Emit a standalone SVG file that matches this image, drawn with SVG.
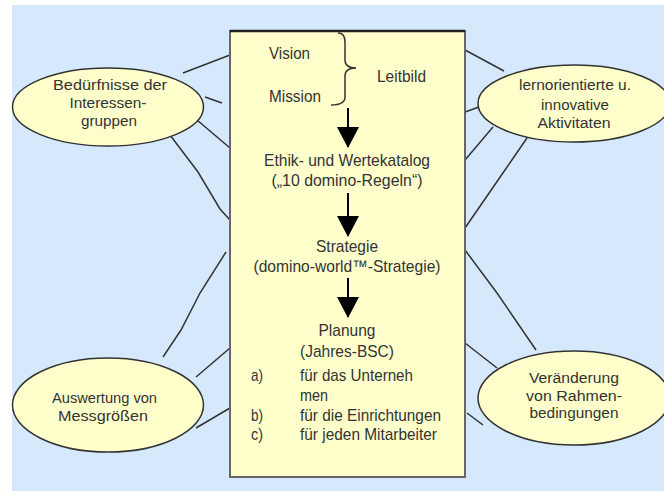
<svg xmlns="http://www.w3.org/2000/svg" width="664" height="491" viewBox="0 0 664 491">
<style>
.t{font-family:"Liberation Sans",Arial,sans-serif;font-size:17px;fill:#333;}
.e{font-size:15.5px;}
.s{font-size:14px;}
.m{text-anchor:middle;}
.node{fill:#ffffcc;stroke:#333;stroke-width:1.5;}
.con{fill:none;stroke:#333;stroke-width:1.5;}
.arr{stroke:#000;stroke-width:2;marker-end:url(#ah);}
</style>
<defs>
<marker id="ah" markerUnits="userSpaceOnUse" markerWidth="21" markerHeight="22" refX="20" refY="11" orient="auto" viewBox="0 0 21 22">
<path d="M0,0 L21,11 L0,22 z" fill="#000"/>
</marker>
</defs>
<rect x="0" y="0" width="664" height="491" fill="#ffffff"/>
<rect x="12" y="5" width="652" height="486" fill="#d5e8fc"/>
<g id="connectors">
<line class="con" x1="183" y1="73" x2="230" y2="55"/>
<line class="con" x1="205" y1="97" x2="222" y2="103"/>
<line class="con" x1="197" y1="120" x2="230" y2="148"/>
<polyline class="con" points="170,135 198,172 220,209 230,220"/>
<polyline class="con" points="226,252 200,293 181,330 163,357"/>
<line class="con" x1="230" y1="348" x2="196" y2="377"/>
<line class="con" x1="230" y1="408" x2="196" y2="428"/>
<line class="con" x1="465" y1="50" x2="504" y2="71"/>
<line class="con" x1="465" y1="112" x2="479" y2="107"/>
<line class="con" x1="493" y1="127" x2="465" y2="160"/>
<polyline class="con" points="527,138 505,170 465,228"/>
<polyline class="con" points="465,250 497,293 536,350"/>
<line class="con" x1="465" y1="343" x2="497" y2="368"/>
<line class="con" x1="467" y1="413" x2="483" y2="425"/>
</g>
<g id="main">
<rect x="230" y="31" width="235" height="446" fill="#ffffcc" stroke="#666" stroke-width="2"/>
<line x1="230" y1="31" x2="465" y2="31" stroke="#222" stroke-width="2.5"/>
<text class="t" x="269" y="59" textLength="41" lengthAdjust="spacingAndGlyphs">Vision</text>
<text class="t" x="269" y="102" textLength="52" lengthAdjust="spacingAndGlyphs">Mission</text>
<path class="con" d="M338,33 Q345,33 345,42 L345,60 Q345,68 356,68 Q345,68 345,76 L345,97 Q345,105 331,105"/>
<text class="t" x="377" y="82" textLength="49" lengthAdjust="spacingAndGlyphs">Leitbild</text>
<line class="arr" x1="348" y1="108" x2="348" y2="147"/>
<text class="t m" x="347" y="166" textLength="166" lengthAdjust="spacingAndGlyphs">Ethik- und Wertekatalog</text>
<text class="t m" x="347" y="186" textLength="151" lengthAdjust="spacingAndGlyphs">(„10 domino-Regeln“)</text>
<line class="arr" x1="348" y1="193" x2="348" y2="236"/>
<text class="t m" x="347" y="252" textLength="62" lengthAdjust="spacingAndGlyphs">Strategie</text>
<text class="t m" x="347" y="272" textLength="187" lengthAdjust="spacingAndGlyphs">(domino-world™-Strategie)</text>
<line class="arr" x1="348" y1="278" x2="348" y2="317"/>
<text class="t m" x="347" y="336" textLength="57" lengthAdjust="spacingAndGlyphs">Planung</text>
<text class="t m" x="347" y="357" textLength="94" lengthAdjust="spacingAndGlyphs">(Jahres-BSC)</text>
<text class="t" x="251" y="381" textLength="12" lengthAdjust="spacingAndGlyphs">a)</text>
<text class="t" x="300" y="381" textLength="113" lengthAdjust="spacingAndGlyphs">für das Unterneh</text>
<text class="t" x="300" y="401" textLength="28" lengthAdjust="spacingAndGlyphs">men</text>
<text class="t" x="251" y="421" textLength="12" lengthAdjust="spacingAndGlyphs">b)</text>
<text class="t" x="300" y="421" textLength="141" lengthAdjust="spacingAndGlyphs">für die Einrichtungen</text>
<text class="t" x="251" y="440" textLength="12" lengthAdjust="spacingAndGlyphs">c)</text>
<text class="t" x="300" y="440" textLength="137" lengthAdjust="spacingAndGlyphs">für jeden Mitarbeiter</text>
</g>
<g id="bedurfnisse">
<ellipse class="node" cx="108" cy="107" rx="95.5" ry="39"/>
<text class="t e m" x="110" y="90" textLength="114" lengthAdjust="spacingAndGlyphs">Bedürfnisse der</text>
<text class="t e m" x="108" y="108" textLength="77" lengthAdjust="spacingAndGlyphs">Interessen-</text>
<text class="t e m" x="109" y="126" textLength="56" lengthAdjust="spacingAndGlyphs">gruppen</text>
</g>
<g id="lernorientierte">
<ellipse class="node" cx="574" cy="103.5" rx="96" ry="38.5"/>
<text class="t e m" x="575" y="90" textLength="112" lengthAdjust="spacingAndGlyphs">lernorientierte u.</text>
<text class="t e m" x="575" y="110" textLength="68" lengthAdjust="spacingAndGlyphs">innovative</text>
<text class="t e m" x="574" y="128" textLength="73" lengthAdjust="spacingAndGlyphs">Aktivitaten</text>
</g>
<g id="auswertung">
<ellipse class="node" cx="108" cy="405" rx="95.5" ry="47"/>
<text class="t e m" x="104.5" y="403" textLength="105" lengthAdjust="spacingAndGlyphs">Auswertung von</text>
<text class="t s m" x="103" y="421" textLength="90" lengthAdjust="spacingAndGlyphs">Messgrößen</text>
</g>
<g id="veraenderung">
<ellipse class="node" cx="574" cy="398" rx="96" ry="47"/>
<text class="t e m" x="574" y="383" textLength="90" lengthAdjust="spacingAndGlyphs">Veränderung</text>
<text class="t e m" x="574" y="401" textLength="96" lengthAdjust="spacingAndGlyphs">von Rahmen-</text>
<text class="t s m" x="574" y="418" textLength="89" lengthAdjust="spacingAndGlyphs">bedingungen</text>
</g>
</svg>
